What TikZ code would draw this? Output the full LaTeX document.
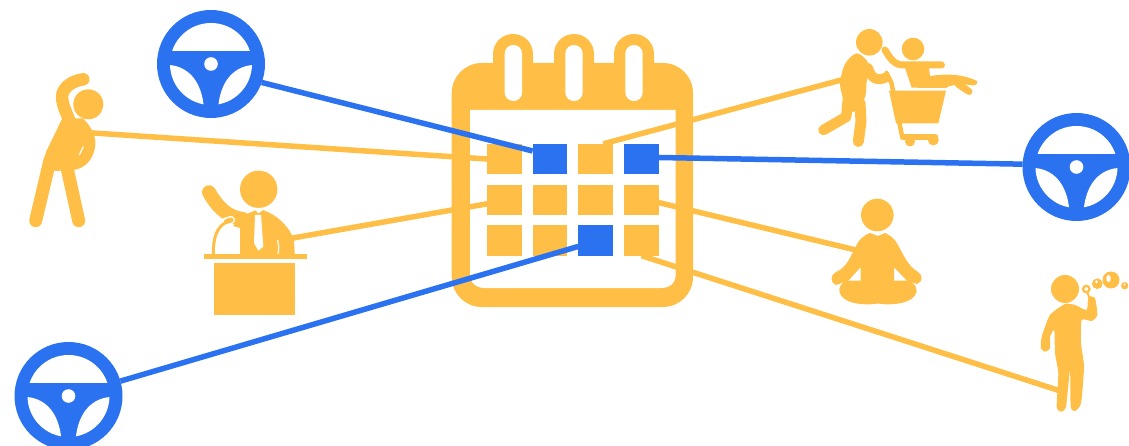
\documentclass[tikz,border=0pt]{standalone}
\definecolor{sun}{HTML}{FFBE45}
\definecolor{azure}{HTML}{2A72EF}
\tikzset{
  yline/.style={draw=sun,line width=5.5pt},
  bline/.style={draw=azure,line width=5.5pt},
  cell/.style={rectangle,fill=sun,minimum width=34.4pt,minimum height=30.4pt,inner sep=0pt,outer sep=0pt},
  bcell/.style={cell,fill=azure},
  limb/.style={draw=sun,line cap=round,line join=round,fill=none},
  gap/.style={fill=white},
  wheelbody/.style={circle,fill=azure,minimum size=108pt,inner sep=0pt,outer sep=0pt}
}
\newcommand{\wheelicon}[3]{%
  \node[wheelbody] (#1) at (#2,#3) {};
  \begin{scope}[shift={(#2,#3)}]
    \begin{scope}
      \clip (0,0) circle (41);
      \fill[gap] (-45,-45) rectangle (45,-13.3);
      \fill[gap] (-45,0.8) .. controls (-24,1) and (-9,16) .. (-7,45) -- (-45,45) -- cycle;
      \fill[gap] (45,0.8) .. controls (24,1) and (9,16) .. (7,45) -- (45,45) -- cycle;
    \end{scope}
    \fill[gap] (0,0) circle (6.8);
  \end{scope}
}
\begin{document}
\begin{tikzpicture}[x=1pt,y=-1pt]
\useasboundingbox (0,0) rectangle (1129,446);
\clip (0,0) rectangle (1129,446);
% calendar
\foreach \cx in {513,574,634}{
  \fill[sun,rounded corners=19.9pt] (\cx-20,34) rectangle (\cx+20,90);
}
\fill[sun,rounded corners=30pt] (451.7,63) rectangle (693,307);
\fill[white] (470,110) -- (675.7,110) -- (675.7,274) .. controls (675.7,283) and (670,288) .. (661,288)
  -- (485,288) .. controls (476,288) and (470,283) .. (470,274) -- cycle;
\foreach \cx in {513.4,574,634}{
  \fill[white,rounded corners=8.6pt] (\cx-8.7,45) rectangle (\cx+8.7,101);
}
% anchors on the figures
\coordinate (stretcher) at (90,132.8);
\coordinate (speaker) at (290,238.5);
\coordinate (shopper) at (845,79);
\coordinate (meditator) at (860,251);
\coordinate (bubbler) at (1062,391.5);
% cells
\node[cell] (s11) at (504.3,159) {};
\node[cell] (s13) at (595.5,159) {};
\node[cell] (s21) at (504.3,199.85) {};
\node[cell] (s22) at (549.85,199.85) {};
\node[cell] (s23) at (595.5,199.85) {};
\node[cell] (s24) at (641.5,199.85) {};
\node[cell] (s31) at (504.3,240.5) {};
\node[cell] (s32) at (549.85,240.5) {};
\node[cell] (s34) at (641.5,240.5) {};
% yellow connectors
\draw[yline] (stretcher) -- (s11.180);
\draw[yline] (speaker) -- (s21.193.7);
\draw[yline] (shopper) -- (s13.63.4);
\draw[yline] (meditator) -- (s24.-9.4);
\draw[yline] (bubbler) -- (s34.south);
% blue cells
\node[bcell] (s12) at (549.85,159) {};
\node[bcell] (s14) at (641.5,159) {};
\node[bcell] (s33) at (595.5,240.5) {};
% wheels
\wheelicon{wheelA}{211}{64}
\wheelicon{wheelB}{1076.5}{167}
\wheelicon{wheelC}{68.5}{396}
% blue connectors
\draw[bline] (wheelA.-20.2) -- (s12.155);
\draw[bline] (wheelB.177.8) -- (s14.5.5);
\draw[bline] (wheelC.16.2) -- (s33.199.5);
% stretching figure
\fill[sun] (88.3,104.3) circle (15);
\draw[limb,line width=12.5pt] (83.3,79.3) .. controls (70,81) and (60,90) .. (62.3,100) .. controls (63.5,108) and (67,114) .. (70,122);
\fill[sun] (62.5,118) -- (83,118.5) .. controls (91,126) and (96,136) .. (95.3,145)
  .. controls (94,160) and (84,169) .. (73,170) -- (55,171) -- (44,160) -- (46,152) -- cycle;
\draw[white,line width=1.2pt] (83.3,146.7) -- (79.3,155);
\draw[limb,line width=13pt] (50,160) -- (35.7,220.7);
\draw[limb,line width=13pt] (66,163) -- (78.7,220.7);
% speaker figure
\fill[sun] (258.7,189.3) circle (18.7);
\draw[limb,line width=14pt] (209,192.3) .. controls (215,203) and (225,217) .. (243,219);
\fill[sun] (233,226) -- (240,217) -- (256,210) -- (263,210) .. controls (278,215) and (290,228) .. (294,240) -- (294.7,254) -- (240,254) -- (240,228) -- cycle;
\fill[gap] (255,215) -- (261,215) -- (263.3,246.7) -- (258.3,250.7) -- (254,243) -- cycle;
\fill[gap] (254.5,209.5) -- (258.5,213.5) -- (263.5,209.5) -- (263,208) -- (255,208) -- cycle;
\draw[white,line width=1.2pt] (277.5,240) .. controls (279,245) and (279,250) .. (278,254);
\draw[white,line width=8pt,line cap=round] (216.5,232) .. controls (218,226) and (222,222) .. (231,220);
\draw[limb,line width=3pt] (213.3,254) .. controls (213.3,238) and (216,225) .. (231,220);
\draw[limb,line width=5pt] (226.5,221.5) -- (231,220);
\fill[sun] (204.3,254) rectangle (307,259.3);
\fill[sun] (213.7,263.3) rectangle (294.7,315);
% shopping figures
\fill[sun] (869.3,42.3) circle (13.3);
\fill[sun] (913,49) circle (11.3);
\fill[sun] plot[smooth cycle,tension=.5] coordinates {(856.7,53.3) (845,64) (840,83.3) (842.7,98.3) (842,110) (853.3,112) (864,100) (866,91.7) (866.5,83.3) (868.3,63.3)};
\draw[limb,line width=10.5pt] (848,104) -- (846,117) -- (823.5,130);
\draw[limb,line width=11pt] (860,103) -- (861,122) -- (858.3,141.5);
\draw[limb,line width=10pt] (868,68) .. controls (871,78) and (876,81) .. (885,78);
\draw[limb,line width=4.5pt] (886.5,73) -- (891.5,83) -- (902,136);
\draw[limb,line width=6.5pt] (903,137) -- (935,137);
\fill[sun] (889,90.7) -- (946,90.7) -- (938.3,123.3) -- (896,123.3) -- cycle;
\fill[sun] (910,141.5) circle (5);
\fill[sun] (933.3,140) circle (5.5);
\draw[limb,line width=7pt] (885,50) .. controls (890,58) and (894,65) .. (903,65) -- (941.5,65);
\fill[sun] (903,62) -- (928,62) -- (930,76) .. controls (950,73) and (965,75) .. (977,81)
  .. controls (978,84) and (976,85) .. (973,85.5) .. controls (965,84) and (955,84) .. (947,87) -- (946.7,88) -- (911.7,87.7) -- cycle;
\draw[limb,line width=7pt] (958,84) -- (969,91.5);
% meditating figure
\fill[sun] (877.3,215) circle (16.3);
\fill[sun] (870,233) .. controls (862,236) and (858,241) .. (855,248) .. controls (850,258) and (846,268) .. (836,272)
  .. controls (830,275) and (830,283) .. (836,285) -- (848.3,280.7) -- (860.5,267.3) -- (860.5,285) -- (894,285) -- (894,267.3) -- (907,280.7) -- (917,284)
  .. controls (923,282) and (923,275) .. (918,272) .. controls (908,266) and (904,256) .. (898,245)
  .. controls (895,239) and (890,235) .. (885,233) -- (878,236) -- cycle;
\fill[sun] (848,280.5) -- (907,280.5) .. controls (915,282) and (917,288) .. (916.5,292)
  .. controls (914,303) and (893,306) .. (878,303.5) .. controls (862,306) and (842,303) .. (839.5,292)
  .. controls (838.5,288) and (841,282) .. (848,280.5) -- cycle;
% bubble figure
\fill[sun] (1065,289) circle (14);
\fill[sun] plot[smooth cycle,tension=.35] coordinates {(1065,304) (1050,315) (1041.7,336.7) (1041,348.3) (1045,351.7) (1050,348.3) (1050,336.7) (1054.3,330) (1055,353.3) (1058.3,373.3) (1056.7,406.7) (1061,411.7) (1066,406.7) (1070,370) (1070.7,406.7) (1075,411) (1081,403.3) (1084,366.7) (1081,343.3) (1081.7,320) (1091.7,321) (1097.3,315) (1095,298.3) (1088.3,296.7) (1086.7,310) (1075,305)};
\draw[limb,line width=2pt] (1090,299) -- (1087.5,293);
\filldraw[fill=white,draw=sun,line width=2.3pt] (1086.3,289) circle (3.2);
\fill[sun] (1097.3,283.7) circle (5.3);
\fill[white] (1096.5,281.8) circle (1.6);
\fill[sun] (1111,280) circle (8.5);
\fill[white] (1108.5,278.5) ellipse (2.2 and 3.6);
\fill[sun] (1124.7,285.7) circle (3.7);
\fill[white] (1124.5,284.5) circle (1.1);
\end{tikzpicture}
\end{document}
